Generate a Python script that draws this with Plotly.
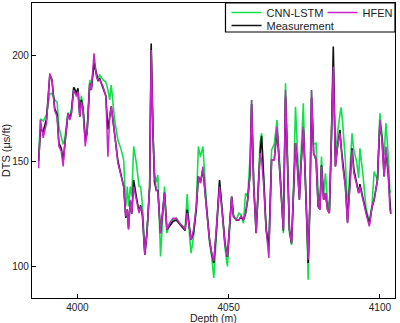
import plotly.graph_objects as go

# Depth (m) and DTS (us/ft)
depth = [
    3987.2, 3987.8, 3988.7, 3989.8, 3990.9, 3991.6, 3992.5, 3993.3, 3993.9, 3994.7,
    3995.3, 3995.8, 3996.9, 3997.5, 3998.0, 3998.8, 3999.7, 4000.2, 4000.8, 4001.3,
    4001.9, 4002.6, 4003.2, 4004.1, 4004.6, 4005.5, 4006.3, 4006.8, 4007.4, 4008.5,
    4009.4, 4010.1, 4010.7, 4011.2, 4012.3, 4013.4, 4014.5, 4015.3, 4016.0, 4016.5,
    4016.9, 4017.5, 4018.0, 4018.6, 4019.5, 4020.4, 4020.9, 4021.5, 4022.3, 4023.0,
    4023.9, 4024.4, 4025.0, 4025.5, 4026.1, 4026.6, 4027.5, 4028.3, 4028.8, 4029.6,
    4030.5, 4031.6, 4032.7, 4033.8, 4034.9, 4035.6, 4036.3, 4037.1, 4037.6, 4038.4,
    4039.3, 4040.0, 4040.7, 4041.5, 4042.0, 4042.8, 4043.7, 4044.4, 4045.1, 4045.9,
    4047.0, 4047.9, 4048.8, 4049.6, 4050.3, 4051.0, 4051.6, 4052.5, 4053.4, 4054.1,
    4054.9, 4055.6, 4056.3, 4057.1, 4057.6, 4058.3, 4059.1, 4059.6, 4060.4, 4060.9,
    4061.6, 4062.4, 4063.3, 4064.2, 4065.1, 4066.0, 4066.6, 4067.3, 4068.1, 4068.8,
    4069.5, 4070.1, 4070.8, 4071.4, 4072.1, 4072.6, 4073.4, 4073.9, 4074.7, 4075.2,
    4075.8, 4076.3, 4076.9, 4077.4, 4078.1, 4078.9, 4079.6, 4080.2, 4080.7, 4081.4,
    4082.0, 4082.7, 4083.3, 4083.9, 4084.6, 4085.3, 4086.0, 4086.8, 4087.2, 4087.7,
    4088.6, 4089.3, 4090.1, 4090.8, 4091.4, 4092.3, 4093.0, 4093.4, 4094.3, 4095.4,
    4096.5, 4097.4, 4098.1, 4099.2, 4100.0, 4100.7, 4101.4, 4102.0, 4102.8, 4103.3,
    4103.6,
]

measurement = [
    150, 165, 164, 170, 191, 188.5, 175, 172, 158.5, 156,
    150, 158, 172.5, 170, 172.7, 185, 182, 184.5, 171, 179,
    174, 160, 163, 187, 183.7, 196.4, 190, 188, 189, 185,
    181, 165, 171, 176, 163, 150, 143, 138, 123, 127,
    118, 131, 125, 141, 133, 126, 129, 124, 105.5, 116,
    138, 205.8, 163, 140, 136, 136, 115.8, 128.4, 135, 117.4,
    119, 121.3, 122, 120, 118, 117, 127, 117, 112.6, 116,
    127, 142.7, 140, 146, 138, 125, 112.6, 106, 101.6, 116,
    141, 126, 111, 104.5, 117, 133, 123.7, 122, 122, 123.5,
    122, 125, 131.6, 144, 177, 138, 116, 131.6, 154, 162,
    137.9, 117.4, 109.5, 150.6, 150.6, 165, 152, 137.9, 117, 180.6,
    150, 117.4, 111, 131.6, 158.5, 150.6, 131.6, 147.4, 165, 147.4,
    125.3, 101.6, 131.6, 180, 153.7, 150.6, 128.4, 127, 148, 131.6,
    134.8, 127, 125.3, 155.3, 204.3, 147.4, 156.9, 164.8, 157, 150,
    138, 121, 138, 156, 146, 140, 134.8, 139, 133, 126,
    120, 128, 131.6, 141, 168, 161, 142.7, 155.3, 142.7, 126.9,
    125,
]

hfen = [
    146.6, 169.5, 161, 168, 191.6, 188.5, 174, 171, 157, 154.5,
    147.4, 157, 172.7, 169.5, 172, 183.7, 180.6, 183, 171, 178,
    174, 157, 163.2, 186.9, 183.7, 201.1, 190, 188.5, 188.5, 185.3,
    180.6, 152.1, 171.1, 175.8, 163.2, 149, 142.7, 137.9, 123.7, 126.9,
    117.4, 131.6, 125.3, 137.9, 131.6, 125.3, 128.4, 125.3, 105.5, 115.8,
    137.9, 202.7, 163.2, 142.7, 136.3, 135.5, 115.8, 128.4, 134.8, 117.4,
    120.5, 122.9, 122.9, 120.5, 119, 117.4, 125.3, 117.4, 112.6, 117.4,
    128.4, 142.7, 139.5, 147.4, 137.9, 125.3, 112.6, 106.3, 102.5, 115.8,
    137.9, 125.3, 110.2, 104.7, 117.4, 133.2, 123.7, 122.1, 122.1, 123.7,
    122.1, 125.3, 131.6, 144.2, 179, 137.9, 115.8, 131.6, 153.7, 150.6,
    137.9, 117.4, 104, 150.6, 150.6, 166.3, 152.1, 137.9, 117.4, 183.7,
    150.6, 117.4, 111, 131.6, 158.5, 150.6, 131.6, 147.4, 166.4, 147.4,
    125.3, 103.2, 131.6, 183.7, 153.7, 150.6, 128.4, 126.9, 147.4, 131.6,
    134.8, 126.9, 125.3, 155.3, 194.8, 147.4, 156.9, 163.2, 155, 147.4,
    137.9, 120.5, 137.9, 155.3, 144.2, 139.5, 134.8, 137.9, 131.6, 125.3,
    119, 128.4, 131.6, 141.1, 169.5, 160, 142.7, 156.9, 144.2, 126.9,
    125.5,
]

cnn_lstm = [
    152, 170, 169, 172, 182, 182, 179, 178, 166, 161,
    158, 160, 173, 171, 174, 185, 183, 182, 173, 181,
    176, 161.6, 165, 188.5, 185, 196.4, 192, 189, 190.8, 188.5,
    187.5, 183.7, 179, 186.1, 169.5, 160, 155.3, 150.6, 128.4, 137.9,
    128.4, 137.9, 133.2, 156.9, 149, 137.9, 137.9, 129.2, 106.5, 116,
    138, 203, 164, 144.2, 140, 143.4, 104.7, 128, 137.9, 115.8,
    120.5, 122, 122.9, 120.5, 119, 117.4, 134.3, 114, 106.3, 114,
    128.4, 156.9, 152, 156.9, 145, 127, 111, 104.7, 94.5, 115,
    139.5, 125.3, 108.7, 100, 115.8, 133.2, 124.5, 122.1, 125.3, 124.5,
    120.5, 134.8, 133, 152.1, 179, 140, 115.8, 133, 158.5, 163.2,
    140, 118, 108, 155.3, 158, 169.5, 155, 140, 115.8, 186.9,
    152, 116, 110.2, 135, 175.8, 158, 135, 152, 177.4, 150,
    125.3, 93.7, 131.6, 183.7, 158, 158.5, 135, 131, 152.1, 134,
    144.2, 131, 127, 158, 195, 152, 163.2, 172, 175.5, 168,
    150, 126, 145, 163.2, 155, 150, 142, 156, 145, 128,
    121, 129, 145, 141, 172.7, 164, 153, 168, 152, 136,
    135,
]

fig = go.Figure()
fig.add_trace(go.Scatter(x=depth, y=cnn_lstm, mode="lines", name="CNN-LSTM",
                         line=dict(color="#12E04A", width=1.6), legendrank=1))
fig.add_trace(go.Scatter(x=depth, y=measurement, mode="lines", name="Measurement",
                         line=dict(color="#111111", width=1.6), legend="legend2"))
fig.add_trace(go.Scatter(x=depth, y=hfen, mode="lines", name="HFEN",
                         line=dict(color="#CC22CC", width=1.5), legendrank=2))

font = dict(family="Liberation Sans, Arial, sans-serif", size=11, color="#222222")
tick_font = dict(family="Liberation Sans, Arial, sans-serif", size=10, color="#222222")
xtitle_font = dict(family="Liberation Sans, Arial, sans-serif", size=10.5, color="#222222")

# white box behind the two legend rows
fig.add_shape(type="rect", xref="paper", yref="paper", x0=0.533, x1=1.0, y0=0.9017, y1=1.0,
              fillcolor="white", line=dict(color="black", width=1.2), layer="above")

# x-axis title sits tight under the tick labels
fig.add_annotation(text="Depth (m)", xref="paper", yref="paper", x=0.5, y=-0.069,
                   xanchor="center", yanchor="middle", showarrow=False, font=xtitle_font)

fig.update_layout(
    width=400, height=323,
    margin=dict(l=32, r=5, t=3, b=25, autoexpand=False),
    paper_bgcolor="white", plot_bgcolor="white",
    font=font,
    legend=dict(orientation="h", x=0.536, xanchor="left", y=1.017, yanchor="top",
                bgcolor="rgba(0,0,0,0)", borderwidth=0, font=font, entrywidth=51),
    legend2=dict(orientation="h", x=0.536, xanchor="left", y=0.973, yanchor="top",
                 bgcolor="rgba(0,0,0,0)", borderwidth=0, font=font),
)
fig.update_xaxes(range=[3985, 4105], tickvals=[4000, 4050, 4100], ticks="inside",
                 ticklen=4, tickcolor="black", showline=True, linecolor="black",
                 linewidth=1.2, mirror=True, showgrid=False, zeroline=False,
                 tickfont=tick_font)
fig.update_yaxes(range=[85, 225], tickvals=[100, 150, 200], ticks="inside",
                 ticklen=4, tickcolor="black", showline=True, linecolor="black",
                 linewidth=1.2, mirror=True, showgrid=False, zeroline=False,
                 title=dict(text="DTS (μs/ft)", standoff=1, font=font), tickfont=tick_font)

fig.write_html("out.html", config={"displayModeBar": False},
               post_script="document.body.style.margin='0';")
